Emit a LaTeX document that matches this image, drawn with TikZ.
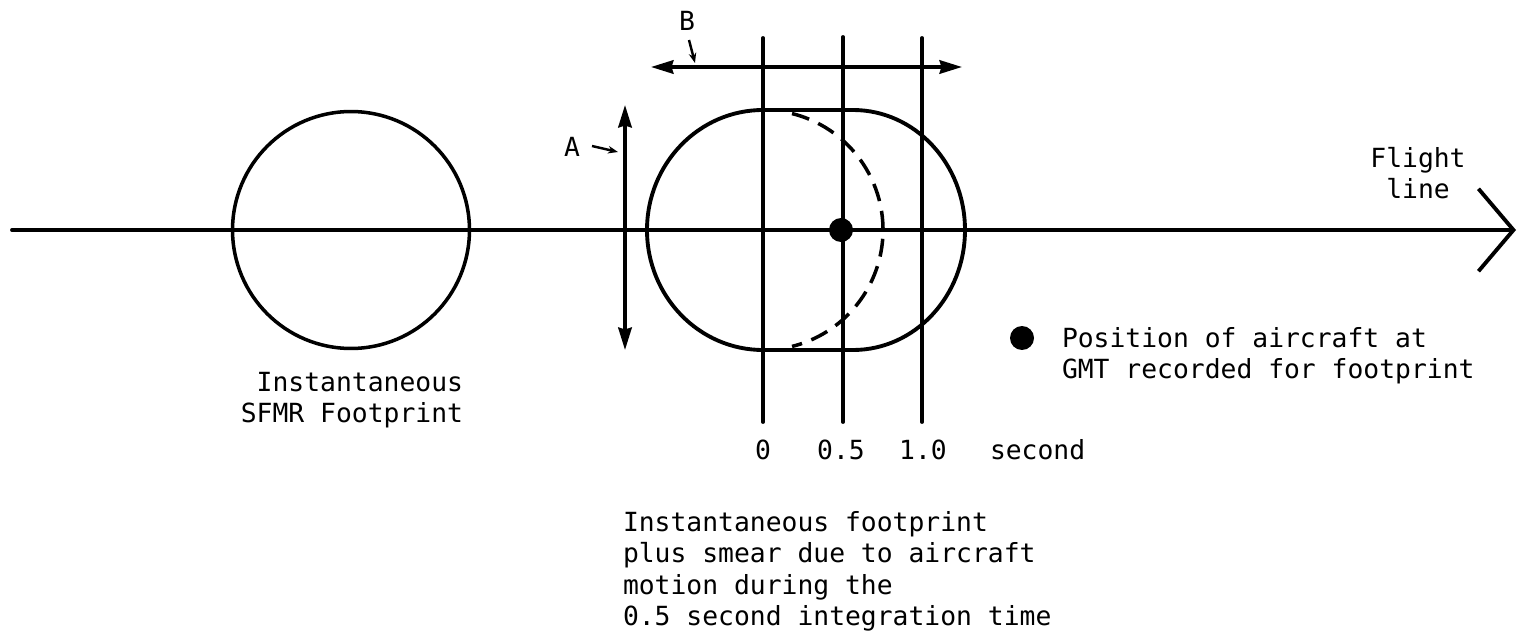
\documentclass[tikz,border=0pt]{standalone}
\usepackage{fontspec}
\newfontfamily\lblfont{DejaVu Sans Mono}
\usetikzlibrary{arrows.meta}
\tikzset{
  every node/.style={font=\lblfont\fontsize{15}{18}\selectfont, inner sep=0pt, outer sep=0pt},
  heavy/.style={line width=2.2pt, line cap=round},
  dimarrow/.style={line width=1.9pt, {Stealth[length=0.45cm,width=0.27cm,inset=0.04cm]}-{Stealth[length=0.45cm,width=0.27cm,inset=0.04cm]}},
  pointer/.style={line width=1.4pt, -{Stealth[length=0.2cm,width=0.15cm]}},
  dotmark/.style={circle, fill=black, minimum size=0.48cm},
}
\begin{document}
\begin{tikzpicture}[x=0.02cm, y=-0.02cm]
\useasboundingbox (0,0) rectangle (1519,635);

% flight line
\coordinate (fl0) at (12,230);
\coordinate (fl1) at (1516,230);
\draw[heavy, -{Straight Barb[length=0.7cm,width=1.65cm,line width=2.2pt]}] (fl0) -- (fl1);
\node[align=center, anchor=north] (flabel) at (1418,147) {\lblfont\fontsize{15}{19.8}\selectfont Flight\\line};

% instantaneous footprint
\node[circle, draw, line width=2pt, minimum size=4.74cm] (inst) at (351,230) {};
\node[align=right, anchor=north east] (instlabel) at (463,372) {\lblfont\fontsize{15}{19.3}\selectfont Instantaneous\\SFMR Footprint};

% smeared footprint outline
\draw[heavy] (763,110) -- (853,110)
  arc[start angle=-90, end angle=90, x radius=112, y radius=120]
  -- (763,350)
  arc[start angle=90, end angle=270, x radius=116, y radius=120];
% dashed half circle
\draw[line width=2pt, dash pattern=on 0.36cm off 0.2cm]
  (763,230) ++(-76:120) arc[start angle=-76, end angle=76, radius=120];

% time lines
\coordinate (t0a) at (763,38);  \coordinate (t0b) at (763,422);
\coordinate (t5a) at (843,37);  \coordinate (t5b) at (843,422);
\coordinate (t1a) at (922,38);  \coordinate (t1b) at (922,422);
\draw[heavy] (t0a) -- (t0b);
\draw[heavy] (t5a) -- (t5b);
\draw[heavy] (t1a) -- (t1b);
\node[anchor=base] (l0) at (763,459) {0};
\node[anchor=base] (l5) at (841,459) {0.5};
\node[anchor=base] (l1) at (923,459) {1.0};
\node[anchor=base west] (lsec) at (990,459) {second};

% aircraft position dot
\node[dotmark] (pos) at (841,230) {};

% B dimension
\coordinate (ba) at (651,67);
\coordinate (bb) at (962,67);
\draw[dimarrow] (ba) -- (bb);
\node[anchor=base] (blab) at (687,31) {B};
\coordinate (bp0) at (689,40);
\coordinate (bp1) at (695,63);
\draw[pointer] (bp0) -- (bp1);

% A dimension
\coordinate (aa) at (625,105);
\coordinate (ab) at (625,350);
\draw[dimarrow] (aa) -- (ab);
\node[anchor=base] (alab) at (572,156) {A};
\coordinate (ap0) at (592,146);
\coordinate (ap1) at (618,152);
\draw[pointer] (ap0) -- (ap1);

% legend
\node[dotmark] (legdot) at (1022,338) {};
\node[align=left, anchor=north west] (legtext) at (1062,327) {\lblfont\fontsize{15}{18.2}\selectfont Position of aircraft at\\GMT recorded for footprint};

% caption
\node[align=left, anchor=north west] (caption) at (623,511) {Instantaneous footprint\\plus smear due to aircraft\\motion during the\\0.5 second integration time};
\end{tikzpicture}
\end{document}
